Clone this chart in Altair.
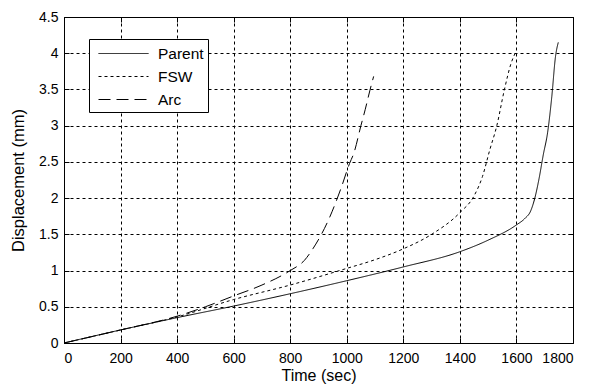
import altair as alt
import pandas as pd

# Parent specimen
parent_time = [0, 200, 400, 600, 800, 1000, 1200, 1400, 1500, 1600, 1630, 1650, 1665, 1680, 1695, 1710, 1725, 1738, 1748]
parent_disp = [0, 0.18, 0.35, 0.51, 0.68, 0.86, 1.05, 1.26, 1.42, 1.63, 1.72, 1.82, 2.0, 2.27, 2.6, 2.9, 3.4, 3.95, 4.15]

# FSW specimen
fsw_time = [0, 200, 400, 600, 800, 1000, 1100, 1200, 1300, 1400, 1450, 1480, 1506, 1530, 1557, 1581, 1598]
fsw_disp = [0, 0.18, 0.36, 0.6, 0.8, 1.03, 1.15, 1.30, 1.50, 1.80, 2.03, 2.3, 2.67, 2.99, 3.49, 3.86, 4.02]

# Arc specimen
arc_time = [0, 200, 400, 500, 600, 700, 800, 850, 880, 940, 980, 1010, 1025, 1050, 1065, 1082, 1095]
arc_disp = [0, 0.18, 0.37, 0.5, 0.65, 0.8, 1.0, 1.14, 1.3, 1.74, 2.14, 2.48, 2.62, 3.0, 3.22, 3.49, 3.68]

series = ["Parent", "FSW", "Arc"]
x_ticks = list(range(0, 1801, 200))
y_ticks = [0, 0.5, 1, 1.5, 2, 2.5, 3, 3.5, 4, 4.5]

rows = []
for name, ts, ds in [("Parent", parent_time, parent_disp), ("FSW", fsw_time, fsw_disp), ("Arc", arc_time, arc_disp)]:
    for i, (t, d) in enumerate(zip(ts, ds)):
        rows.append({"Specimen": name, "Time": t, "Disp": d, "order": i})
df = pd.DataFrame(rows)

FONT = "Liberation Sans"

xscale = alt.Scale(domain=[0, 1800], nice=False, zero=False)
yscale = alt.Scale(domain=[0, 4.5], nice=False, zero=False)

common = dict(labelFont=FONT, titleFont=FONT, labelColor="black", titleColor="black",
              titleFontWeight="normal")

lines = alt.Chart(df).mark_line(color="black", strokeWidth=1, interpolate="monotone").encode(
    x=alt.X("Time:Q", scale=xscale,
            axis=alt.Axis(title="Time (sec)", values=x_ticks, format="d", grid=True,
                          gridDash=[3, 3], gridColor="black", gridOpacity=1, gridWidth=1,
                          ticks=False, domain=False, labelPadding=8, titlePadding=2,
                          labelFontSize=14, titleFontSize=16, **common)),
    y=alt.Y("Disp:Q", scale=yscale,
            axis=alt.Axis(title="Displacement (mm)", values=y_ticks, format="~g", grid=True,
                          gridDash=[3, 3], gridColor="black", gridOpacity=1, gridWidth=1,
                          ticks=False, domain=False, labelPadding=6, titlePadding=12,
                          labelFontSize=14, titleFontSize=16.5, **common)),
    strokeDash=alt.StrokeDash("Specimen:N",
                              scale=alt.Scale(domain=series, range=[[1, 0], [3, 3], [12, 6]]),
                              legend=alt.Legend(title=None, orient="none", legendX=25, legendY=22,
                                                symbolType="M-0.5,0H4.5", symbolStrokeWidth=1,
                                                symbolStrokeColor="black", symbolFillColor="transparent",
                                                symbolSize=400,
                                                labelFont=FONT, labelFontSize=15.5, labelColor="black",
                                                strokeColor="black", fillColor="white",
                                                padding=4, rowPadding=4, labelOffset=44)),
    detail="Specimen:N",
    order="order:Q",
)

tick_axis = dict(ticks=True, tickSize=5, tickColor="black", tickWidth=1, labels=False,
                 domain=False, grid=False, title=None, offset=-5)

ticks_bl = alt.Chart(df).mark_point(opacity=0).encode(
    x=alt.X("Time:Q", scale=xscale, axis=alt.Axis(orient="bottom", values=x_ticks, **tick_axis)),
    y=alt.Y("Disp:Q", scale=yscale, axis=alt.Axis(orient="left", values=y_ticks, **tick_axis)),
)
ticks_tr = alt.Chart(df).mark_point(opacity=0).encode(
    x=alt.X("Time:Q", scale=xscale, axis=alt.Axis(orient="top", values=x_ticks, **tick_axis)),
    y=alt.Y("Disp:Q", scale=yscale, axis=alt.Axis(orient="right", values=y_ticks, **tick_axis)),
)

chart = alt.layer(lines, ticks_bl, ticks_tr).resolve_axis(x="independent", y="independent").properties(
    width=509, height=326,
    autosize=alt.AutoSizeParams(type="none"),
    padding={"left": 56, "top": 9, "right": 10, "bottom": 44},
    background="white",
).configure_view(stroke="black", strokeWidth=1)

chart.save("out.html", embed_options={"renderer": "svg", "actions": False})
